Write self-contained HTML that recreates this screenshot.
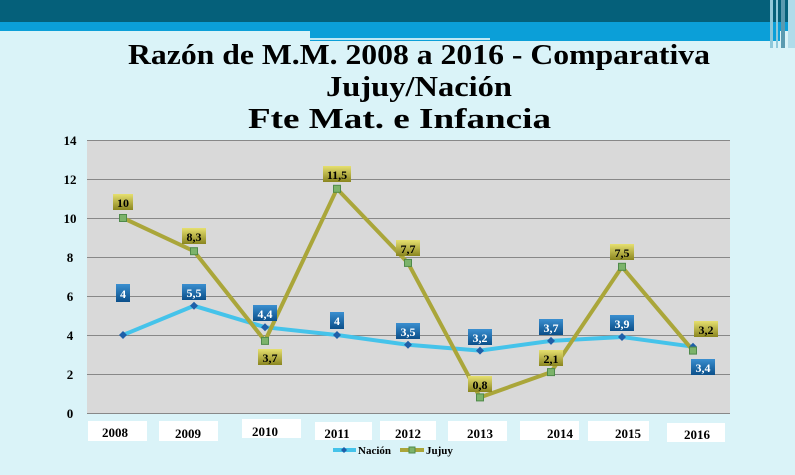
<!DOCTYPE html>
<html><head><meta charset="utf-8"><style>
body{margin:0;width:795px;height:475px;overflow:hidden;background:#daf3f8;font-family:"Liberation Serif",serif;}
</style></head><body>
<svg width="795" height="475" xmlns="http://www.w3.org/2000/svg" style="position:absolute;left:0;top:0">
<defs>
<linearGradient id="bl" x1="0" y1="0" x2="0" y2="1"><stop offset="0" stop-color="#3a8fd0"/><stop offset="1" stop-color="#0b4f8a"/></linearGradient>
<linearGradient id="yl" x1="0" y1="0" x2="0" y2="1"><stop offset="0" stop-color="#e6e070"/><stop offset="1" stop-color="#8a8520"/></linearGradient>
</defs>
<rect x="0" y="0" width="795" height="475" fill="#daf3f8"/>
<rect x="0" y="0" width="795" height="22" fill="#05607a"/>
<rect x="0" y="22" width="795" height="9" fill="#0b9fd8"/>
<rect x="310" y="31" width="470" height="10" fill="#0b9fd8"/>
<rect x="310" y="38" width="180" height="2" fill="#bfe8f5"/>
<rect x="770" y="0" width="3" height="48" fill="#8fc8da"/>
<rect x="776" y="0" width="2" height="48" fill="#8fc8da"/>
<rect x="781" y="0" width="4" height="48" fill="#5a9ab0"/>
<rect x="788" y="0" width="7" height="48" fill="#b0dcea"/>
<g font-weight="bold" font-size="28" fill="#000">
<text x="128" y="64" textLength="582" lengthAdjust="spacingAndGlyphs">Razón de M.M. 2008 a 2016 - Comparativa</text>
<text x="326" y="96" textLength="186" lengthAdjust="spacingAndGlyphs">Jujuy/Nación</text>
<text x="248" y="128" textLength="303" lengthAdjust="spacingAndGlyphs">Fte  Mat. e Infancia</text>
</g>
<rect x="87" y="140" width="643" height="273" fill="#d9d9d9"/>
<g stroke="#888" stroke-width="1">
<line x1="87" y1="140.5" x2="730" y2="140.5"/><line x1="87" y1="179.5" x2="730" y2="179.5"/>
<line x1="87" y1="218.5" x2="730" y2="218.5"/><line x1="87" y1="257.5" x2="730" y2="257.5"/>
<line x1="87" y1="296.5" x2="730" y2="296.5"/><line x1="87" y1="335.5" x2="730" y2="335.5"/>
<line x1="87" y1="374.5" x2="730" y2="374.5"/><line x1="87" y1="413.5" x2="730" y2="413.5"/>
</g>
<g font-size="13" font-weight="bold" text-anchor="middle">
<text x="70" y="145">14</text><text x="70" y="184">12</text><text x="70" y="223">10</text>
<text x="70" y="262">8</text><text x="70" y="301">6</text><text x="70" y="340">4</text>
<text x="70" y="379">2</text><text x="70" y="418">0</text>
</g>
<g fill="#fff">
<rect x="88" y="421" width="59" height="20"/><rect x="159" y="421" width="59" height="20"/>
<rect x="242" y="419" width="59" height="19"/><rect x="315" y="422" width="57" height="18"/>
<rect x="380" y="421" width="56" height="19"/><rect x="448" y="421" width="59" height="20"/>
<rect x="520" y="421" width="59" height="19"/><rect x="588" y="421" width="61" height="20"/>
<rect x="667" y="423" width="58" height="19"/>
</g>
<g font-size="13" font-weight="bold" text-anchor="middle">
<text x="115" y="437">2008</text><text x="188" y="438">2009</text><text x="265" y="436">2010</text>
<text x="337" y="438">2011</text><text x="408" y="438">2012</text><text x="480" y="438">2013</text>
<text x="560" y="438">2014</text><text x="628" y="438">2015</text><text x="697" y="439">2016</text>
</g>
<polyline fill="none" stroke="#45c3ea" stroke-width="4" points="123,335 194,305.8 265,327.2 337,335 408,344.8 480,350.6 551,340.9 622,337 693,346.7"/>
<polyline fill="none" stroke="#aaa63a" stroke-width="4" points="123,218 194,251.2 265,340.9 337,188.8 408,262.9 480,397.4 551,372.1 622,266.8 693,350.6"/>
<g fill="#1f5fa8">
<path d="M123,331l4,4-4,4-4-4z"/><path d="M194,301.8l4,4-4,4-4-4z"/><path d="M265,323.2l4,4-4,4-4-4z"/>
<path d="M337,331l4,4-4,4-4-4z"/><path d="M408,340.8l4,4-4,4-4-4z"/><path d="M480,346.6l4,4-4,4-4-4z"/>
<path d="M551,336.9l4,4-4,4-4-4z"/><path d="M622,333l4,4-4,4-4-4z"/><path d="M693,342.7l4,4-4,4-4-4z"/>
</g>
<g fill="#7cb36a" stroke="#4f8a4a" stroke-width="1">
<rect x="119.5" y="214.5" width="7" height="7"/><rect x="190.5" y="247.7" width="7" height="7"/>
<rect x="261.5" y="337.4" width="7" height="7"/><rect x="333.5" y="185.3" width="7" height="7"/>
<rect x="404.5" y="259.4" width="7" height="7"/><rect x="476.5" y="393.9" width="7" height="7"/>
<rect x="547.5" y="368.6" width="7" height="7"/><rect x="618.5" y="263.3" width="7" height="7"/>
<rect x="689.5" y="347.1" width="7" height="7"/>
</g>
<g font-size="12" font-weight="bold" text-anchor="middle" fill="#fff">
<rect x="116" y="284" width="14" height="18" fill="url(#bl)"/><text x="123" y="298">4</text>
<rect x="182" y="284" width="24" height="16" fill="url(#bl)"/><text x="194" y="297">5,5</text>
<rect x="253" y="305" width="24" height="16" fill="url(#bl)"/><text x="265" y="318">4,4</text>
<rect x="330" y="312" width="14" height="17" fill="url(#bl)"/><text x="337" y="325">4</text>
<rect x="396" y="323" width="24" height="16" fill="url(#bl)"/><text x="408" y="336">3,5</text>
<rect x="468" y="329" width="24" height="16" fill="url(#bl)"/><text x="480" y="342">3,2</text>
<rect x="539" y="319" width="24" height="16" fill="url(#bl)"/><text x="551" y="332">3,7</text>
<rect x="610" y="315" width="24" height="16" fill="url(#bl)"/><text x="622" y="328">3,9</text>
<rect x="691" y="359" width="24" height="16" fill="url(#bl)"/><text x="703" y="372">3,4</text>
</g>
<g font-size="12" font-weight="bold" text-anchor="middle" fill="#000">
<rect x="113" y="194" width="20" height="16" fill="url(#yl)"/><text x="123" y="207">10</text>
<rect x="182" y="228" width="24" height="16" fill="url(#yl)"/><text x="194" y="241">8,3</text>
<rect x="258" y="349" width="24" height="16" fill="url(#yl)"/><text x="270" y="362">3,7</text>
<rect x="323" y="166" width="28" height="16" fill="url(#yl)"/><text x="337" y="179">11,5</text>
<rect x="396" y="240" width="24" height="16" fill="url(#yl)"/><text x="408" y="253">7,7</text>
<rect x="468" y="376" width="24" height="16" fill="url(#yl)"/><text x="480" y="389">0,8</text>
<rect x="539" y="350" width="24" height="16" fill="url(#yl)"/><text x="551" y="363">2,1</text>
<rect x="610" y="244" width="24" height="16" fill="url(#yl)"/><text x="622" y="257">7,5</text>
<rect x="694" y="321" width="24" height="16" fill="url(#yl)"/><text x="706" y="334">3,2</text>
</g>
<line x1="333" y1="450" x2="356" y2="450" stroke="#45c3ea" stroke-width="4"/>
<path d="M344,447l3,3-3,3-3-3z" fill="#1f5fa8"/>
<text x="358" y="454" font-size="11" font-weight="bold">Nación</text>
<line x1="400" y1="450" x2="424" y2="450" stroke="#aaa63a" stroke-width="4"/>
<rect x="409" y="447" width="6" height="6" fill="#7cb36a" stroke="#4f8a4a"/>
<text x="426" y="454" font-size="11" font-weight="bold">Jujuy</text>
</svg>
</body></html>
